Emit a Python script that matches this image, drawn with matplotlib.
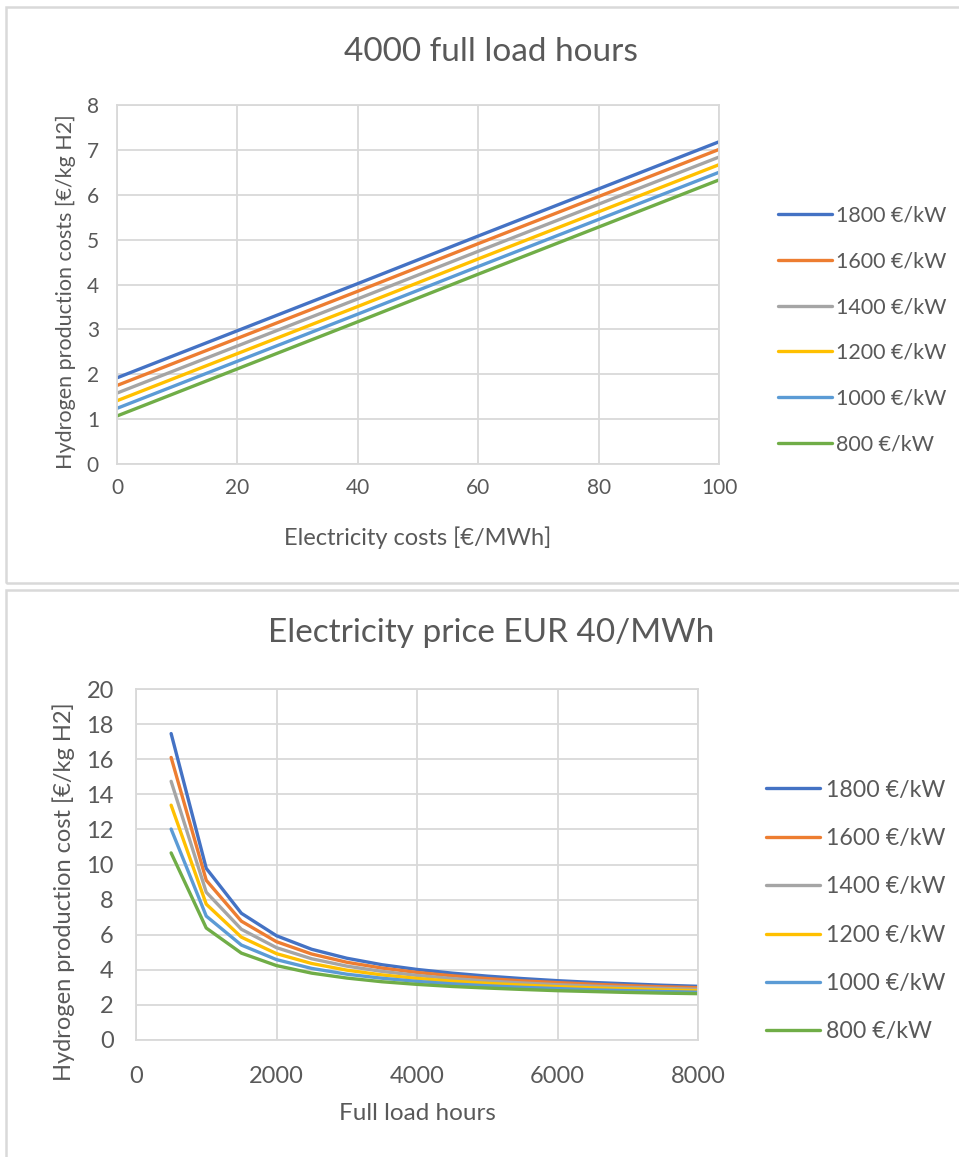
import matplotlib.pyplot as plt
from matplotlib.patches import Rectangle

# Donnees
capex_labels = ["1800 €/kW", "1600 €/kW", "1400 €/kW", "1200 €/kW", "1000 €/kW", "800 €/kW"]
couleurs = ["#4472C4", "#ED7D31", "#A5A5A5", "#FFC000", "#5B9BD5", "#70AD47"]

# Graphe 1 : 4000 heures pleine charge
elec_costs = [0, 20, 40, 60, 80, 100]
cost_1800 = [1.92, 2.97, 4.02, 5.08, 6.13, 7.18]
cost_1600 = [1.75, 2.80, 3.85, 4.91, 5.96, 7.01]
cost_1400 = [1.58, 2.63, 3.68, 4.74, 5.79, 6.84]
cost_1200 = [1.41, 2.46, 3.51, 4.57, 5.62, 6.67]
cost_1000 = [1.24, 2.29, 3.34, 4.40, 5.45, 6.50]
cost_800 = [1.07, 2.12, 3.17, 4.23, 5.28, 6.33]

# Graphe 2 : prix electricite 40 EUR/MWh
hours = [500, 1000, 1500, 2000, 2500, 3000, 3500, 4000,
         4500, 5000, 5500, 6000, 6500, 7000, 7500, 8000]
h_1800 = [17.46, 9.78, 7.22, 5.94, 5.17, 4.66, 4.29, 4.02,
          3.81, 3.64, 3.50, 3.38, 3.28, 3.20, 3.12, 3.06]
h_1600 = [16.10, 9.10, 6.77, 5.60, 4.90, 4.43, 4.10, 3.85,
          3.66, 3.50, 3.37, 3.27, 3.18, 3.10, 3.03, 2.98]
h_1400 = [14.74, 8.42, 6.31, 5.26, 4.63, 4.21, 3.91, 3.68,
          3.50, 3.36, 3.25, 3.15, 3.07, 3.00, 2.94, 2.89]
h_1200 = [13.38, 7.74, 5.86, 4.92, 4.36, 3.98, 3.71, 3.51,
          3.35, 3.23, 3.13, 3.04, 2.97, 2.91, 2.85, 2.81]
h_1000 = [12.02, 7.06, 5.41, 4.58, 4.08, 3.75, 3.52, 3.34,
          3.20, 3.09, 3.00, 2.93, 2.86, 2.81, 2.76, 2.72]
h_800 = [10.66, 6.38, 4.95, 4.24, 3.81, 3.53, 3.32, 3.17,
         3.05, 2.96, 2.88, 2.81, 2.76, 2.71, 2.67, 2.64]

series_top = [cost_1800, cost_1600, cost_1400, cost_1200, cost_1000, cost_800]
series_bot = [h_1800, h_1600, h_1400, h_1200, h_1000, h_800]

plt.rcParams["font.family"] = ["Lato", "DejaVu Sans"]
TEXTE = "#595959"
GRILLE = "#D9D9D9"

W, H = 959, 1157
fig = plt.figure(figsize=(W / 100, H / 100), dpi=100)


def px_rect(x0, y0, x1, y1):
    """Convertit des pixels (haut-gauche) en fraction de figure"""
    return [x0 / W, 1 - y1 / H, (x1 - x0) / W, (y1 - y0) / H]


# Cadres des deux graphiques
for y0, y1 in [(7, 583), (590, 1175)]:
    fig.patches.append(Rectangle((5.5 / W, 1 - y1 / H), 1.0, (y1 - y0) / H,
                                 transform=fig.transFigure, fill=False,
                                 edgecolor=GRILLE, linewidth=1.8))


def styliser(ax, tick_size, xpad, ypad):
    ax.grid(True, color=GRILLE, linewidth=1.3)
    ax.set_axisbelow(True)
    for s in ax.spines.values():
        s.set_color(GRILLE)
        s.set_linewidth(1.3)
    ax.tick_params(length=0, labelsize=tick_size, colors=TEXTE)
    ax.tick_params(axis="x", pad=xpad)
    ax.tick_params(axis="y", pad=ypad)


# Graphe du haut
ax1 = fig.add_axes(px_rect(117, 105, 719, 464))
for vals, lab, c in zip(series_top, capex_labels, couleurs):
    ax1.plot(elec_costs, vals, color=c, linewidth=2.4, label=lab,
             solid_capstyle="round")
ax1.set_xlim(0, 100)
ax1.set_ylim(0, 8)
ax1.set_xticks(range(0, 101, 20))
ax1.set_yticks(range(0, 9))
styliser(ax1, 15, 10, 13)
ax1.set_xlabel("Electricity costs [€/MWh]", fontsize=17, color=TEXTE)
ax1.xaxis.set_label_coords(301 / 602, -(526 - 464) / 359)
ax1.set_ylabel("Hydrogen production costs [€/kg H2]", fontsize=15.5, color=TEXTE)
ax1.yaxis.set_label_coords(-(117 - 76) / 602, (464 - 292) / 359)
fig.text(491 / W, 1 - 52 / H, "4000 full load hours", fontsize=24, color=TEXTE,
         ha="center", va="center")
ax1.legend(loc="center left", bbox_to_anchor=(778 / W, 1 - 330 / H),
           bbox_transform=fig.transFigure, frameon=False, borderpad=0,
           borderaxespad=0, fontsize=15.5, labelcolor=TEXTE, handlelength=2.5,
           handletextpad=0.2, labelspacing=1.19)

# Graphe du bas
ax2 = fig.add_axes(px_rect(136, 689, 698, 1040))
for vals, lab, c in zip(series_bot, capex_labels, couleurs):
    ax2.plot(hours, vals, color=c, linewidth=2.4, label=lab,
             solid_capstyle="round")
ax2.set_xlim(0, 8000)
ax2.set_ylim(0, 20)
ax2.set_xticks(range(0, 8001, 2000))
ax2.set_yticks(range(0, 21, 2))
styliser(ax2, 17, 19, 16)
ax2.set_xlabel("Full load hours", fontsize=17.5, color=TEXTE)
ax2.xaxis.set_label_coords((417 - 136) / 562, -(1103 - 1040) / 351)
ax2.set_ylabel("Hydrogen production cost [€/kg H2]", fontsize=17, color=TEXTE)
ax2.yaxis.set_label_coords(-(136 - 75) / 562, (1040 - 892) / 351)
fig.text(491 / W, 1 - 633 / H, "Electricity price EUR 40/MWh", fontsize=24,
         color=TEXTE, ha="center", va="center")
ax2.legend(loc="center left", bbox_to_anchor=(766 / W, 1 - 911 / H),
           bbox_transform=fig.transFigure, frameon=False, borderpad=0,
           borderaxespad=0, fontsize=16.7, labelcolor=TEXTE, handlelength=2.33,
           handletextpad=0.25, labelspacing=1.18)

fig.savefig("out.png", dpi=100, facecolor="white")
